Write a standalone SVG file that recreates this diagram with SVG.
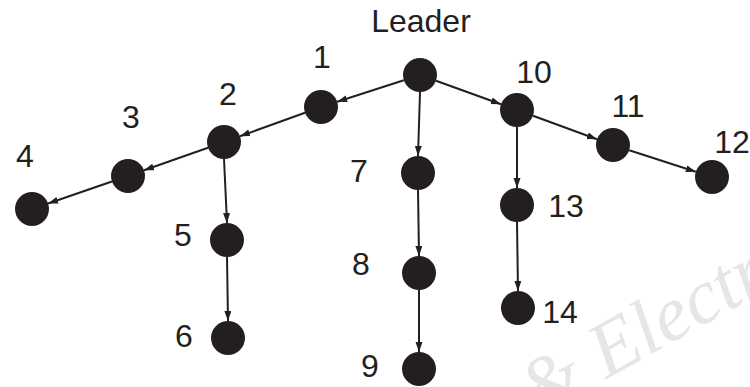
<svg xmlns="http://www.w3.org/2000/svg" width="750" height="387" viewBox="0 0 750 387">
<style>
.n{fill:#231f20}
.e{stroke:#231f20;stroke-width:2;fill:none;marker-end:url(#ah)}
.t{font-family:"Liberation Sans",Arial,sans-serif;font-size:32px;fill:#231f20;text-anchor:middle}
.w{font-family:"Liberation Serif","Times New Roman",serif;font-style:italic;font-size:78px;fill:#e6e6e6}
</style>
<defs>
<marker id="ah" markerUnits="userSpaceOnUse" markerWidth="11" markerHeight="8" refX="10" refY="3.5" orient="auto">
<path d="M0,0 L10,3.5 L0,7 z" fill="#231f20"/>
</marker>
</defs>
<rect width="750" height="387" fill="#fff"/>
<text class="w" transform="translate(536,418) rotate(-29)">&amp; Electr</text>
<g id="connectors">
<line class="e" x1="403.8" y1="80.2" x2="337.2" y2="101.8"/>
<line class="e" x1="305" y1="112.8" x2="240" y2="136.2"/>
<line class="e" x1="208" y1="147.7" x2="144" y2="170.3"/>
<line class="e" x1="111.9" y1="181.5" x2="48.1" y2="203.5"/>
<line class="e" x1="224" y1="159" x2="227" y2="223"/>
<line class="e" x1="227" y1="257" x2="228" y2="321"/>
<line class="e" x1="420" y1="92" x2="418" y2="156"/>
<line class="e" x1="418" y1="190" x2="419" y2="256"/>
<line class="e" x1="419" y1="290" x2="419" y2="352"/>
<line class="e" x1="436" y1="80.8" x2="501" y2="104.2"/>
<line class="e" x1="533" y1="115.8" x2="597" y2="139.2"/>
<line class="e" x1="629.2" y1="150.2" x2="695.8" y2="171.8"/>
<line class="e" x1="517" y1="127" x2="517" y2="188"/>
<line class="e" x1="517" y1="222" x2="518" y2="291"/>
</g>
<g id="leader"><circle class="n" cx="420" cy="75" r="17"/><text class="t" x="421" y="32">Leader</text></g>
<g id="n1"><circle class="n" cx="321" cy="107" r="17"/><text class="t" x="322" y="68">1</text></g>
<g id="n2"><circle class="n" cx="224" cy="142" r="17"/><text class="t" x="228" y="105">2</text></g>
<g id="n3"><circle class="n" cx="128" cy="176" r="17"/><text class="t" x="131" y="128">3</text></g>
<g id="n4"><circle class="n" cx="32" cy="209" r="17"/><text class="t" x="25" y="167">4</text></g>
<g id="n5"><circle class="n" cx="227" cy="240" r="17"/><text class="t" x="183" y="246">5</text></g>
<g id="n6"><circle class="n" cx="228" cy="338" r="17"/><text class="t" x="184" y="347">6</text></g>
<g id="n7"><circle class="n" cx="418" cy="173" r="17"/><text class="t" x="359" y="182">7</text></g>
<g id="n8"><circle class="n" cx="419" cy="273" r="17"/><text class="t" x="361" y="275">8</text></g>
<g id="n9"><circle class="n" cx="419" cy="369" r="17"/><text class="t" x="370" y="377">9</text></g>
<g id="n10"><circle class="n" cx="517" cy="110" r="17"/><text class="t" x="534" y="83">10</text></g>
<g id="n11"><circle class="n" cx="613" cy="145" r="17"/><text class="t" x="628" y="117">11</text></g>
<g id="n12"><circle class="n" cx="712" cy="177" r="17"/><text class="t" x="732" y="153">12</text></g>
<g id="n13"><circle class="n" cx="517" cy="205" r="17"/><text class="t" x="566" y="217">13</text></g>
<g id="n14"><circle class="n" cx="518" cy="308" r="17"/><text class="t" x="560" y="323">14</text></g>
</svg>
